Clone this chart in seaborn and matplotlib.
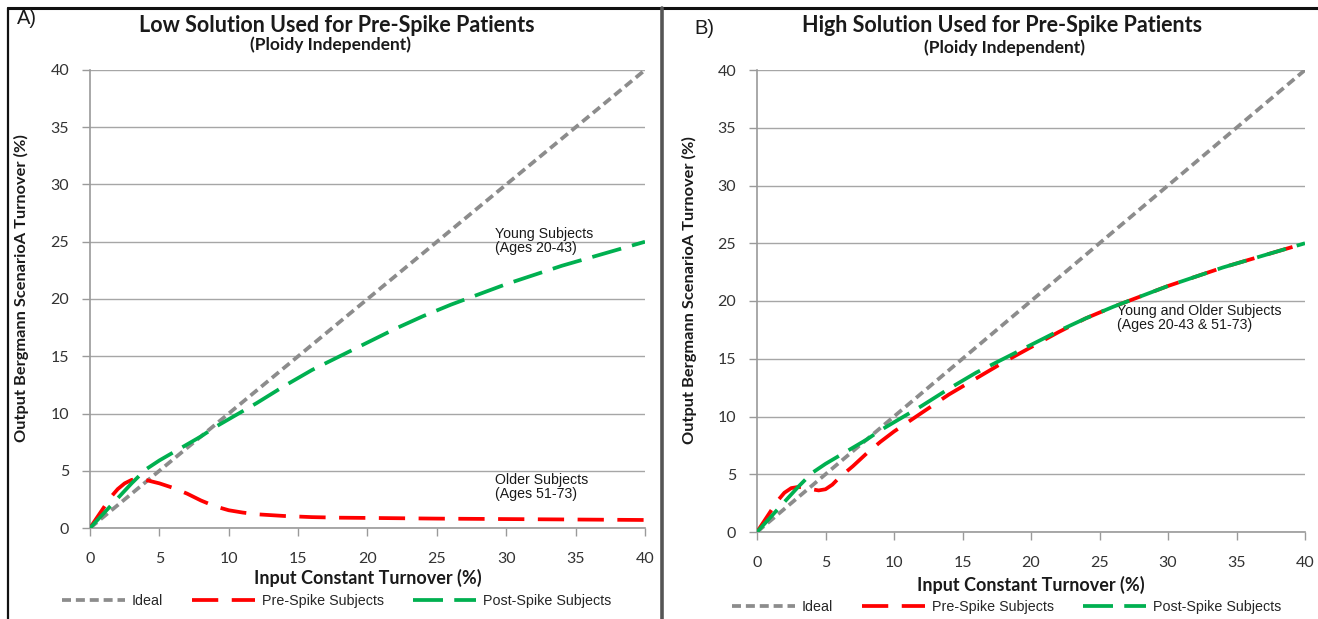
import numpy as np
import pandas as pd
import matplotlib
matplotlib.use("Agg")
import matplotlib.pyplot as plt
from matplotlib.lines import Line2D
import seaborn as sns

# ---------------- data ----------------
ideal_x = [0, 40]
ideal_y = [0, 40]

post_x = [0, 1, 2, 3, 4, 5, 6, 7, 8, 9, 10, 12, 14, 16, 18, 20, 22, 24, 26, 28, 30, 32, 34, 36, 38, 40]
post_y = [0, 1.3, 2.6, 3.9, 5.1, 5.9, 6.6, 7.3, 8.0, 8.8, 9.5, 10.9, 12.4, 13.8, 15.0, 16.2,
          17.4, 18.5, 19.5, 20.4, 21.3, 22.1, 22.9, 23.6, 24.3, 25.0]

pre_low_x = [0, 0.5, 1, 1.5, 2, 2.5, 3, 3.5, 4, 5, 6, 7, 8, 9, 10, 11, 12, 14, 16, 18, 20, 25, 30, 35, 40]
pre_low_y = [0, 0.9, 1.8, 2.7, 3.4, 3.9, 4.2, 4.3, 4.2, 3.9, 3.5, 3.0, 2.4, 1.9, 1.55, 1.35, 1.2,
             1.05, 0.95, 0.9, 0.88, 0.82, 0.78, 0.74, 0.7]

pre_high_x = [0, 0.5, 1, 1.5, 2, 2.5, 3, 3.5, 4, 4.5, 5, 5.5, 6, 7, 8, 9, 10, 11, 12, 14, 16, 18, 20,
              22, 24, 26, 28, 30, 32, 34, 36, 38, 40]
pre_high_y = [0, 0.9, 1.8, 2.7, 3.4, 3.8, 3.9, 3.85, 3.7, 3.6, 3.7, 4.1, 4.7, 5.7, 6.8, 7.8, 8.7,
              9.5, 10.3, 11.9, 13.3, 14.7, 16.0, 17.3, 18.5, 19.5, 20.4, 21.3, 22.1, 22.9, 23.6,
              24.3, 25.0]

x_ticks = [0, 5, 10, 15, 20, 25, 30, 35, 40]
y_ticks = [0, 5, 10, 15, 20, 25, 30, 35, 40]

series_labels = ["Ideal", "Pre-Spike Subjects", "Post-Spike Subjects"]
titles = ["Low Solution Used for Pre-Spike Patients", "High Solution Used for Pre-Spike Patients"]
subtitle = "(Ploidy Independent)"
panel_tags = ["A)", "B)"]
xlabel = "Input Constant Turnover (%)"
ylabel = "Output Bergmann ScenarioA Turnover (%)"

# ---------------- style ----------------
sns.set_theme(style="white")
plt.rcParams['font.family'] = ['Lato', 'DejaVu Sans']

W, H = 1318, 619
fig = plt.figure(figsize=(W / 100, H / 100), dpi=100)

GRAY = "#8c8c8c"
RED = "#ff0000"
GREEN = "#00b050"
LW = 2.7
ideal_ls = (0, (2.4, 1.3))
pre_ls = (0, (7.0, 3.6))
post_ls = (0, (8.0, 3.0))
TXT = "#1a1a1a"


def px_rect(l, r, t, b):
    return [l / W, 1 - b / H, (r - l) / W, (b - t) / H]


axes_specs = [px_rect(90, 645, 70, 528), px_rect(757, 1305, 70, 532)]
pre_data = [(pre_low_x, pre_low_y), (pre_high_x, pre_high_y)]

axs = []
for i, rect in enumerate(axes_specs):
    ax = fig.add_axes(rect)
    axs.append(ax)
    df_ideal = pd.DataFrame({"x": ideal_x, "y": ideal_y})
    df_pre = pd.DataFrame({"x": pre_data[i][0], "y": pre_data[i][1]})
    df_post = pd.DataFrame({"x": post_x, "y": post_y})
    sns.lineplot(data=df_ideal, x="x", y="y", ax=ax, color=GRAY, lw=LW, linestyle=ideal_ls,
                 label=series_labels[0], legend=False, zorder=3)
    sns.lineplot(data=df_pre, x="x", y="y", ax=ax, color=RED, lw=LW, linestyle=pre_ls,
                 label=series_labels[1], legend=False, zorder=4)
    sns.lineplot(data=df_post, x="x", y="y", ax=ax, color=GREEN, lw=LW, linestyle=post_ls,
                 label=series_labels[2], legend=False, zorder=5)

    ax.set_xlim(0, 40)
    ax.set_ylim(0, 40)
    ax.set_xticks(x_ticks)
    ax.set_yticks(y_ticks)
    ax.set_xticklabels([str(t) for t in x_ticks])
    ax.set_yticklabels([str(t) for t in y_ticks])
    ax.grid(axis="y", color="#a6a6a6", lw=1.0)
    ax.grid(axis="x", visible=False)
    ax.set_axisbelow(True)
    for s in ["top", "right"]:
        ax.spines[s].set_visible(False)
    for s in ["left", "bottom"]:
        ax.spines[s].set_color("#9a9a9a")
        ax.spines[s].set_linewidth(1.2)
    ax.tick_params(axis="both", direction="out", length=6, width=1.0, color="#9a9a9a",
                   labelsize=11.5, labelcolor="#333333")
    ax.tick_params(axis="x", pad=11, bottom=True)
    ax.tick_params(axis="y", pad=9, left=True)
    ax.set_xlabel(xlabel, fontsize=13, fontweight="bold", color=TXT)
    ax.set_ylabel(ylabel, fontsize=11.8, fontweight="bold", color=TXT)
    ax.set_facecolor("white")

axs[0].xaxis.set_label_coords(0.5, (528 - 569) / 458)
axs[1].xaxis.set_label_coords(0.5, (532 - 576) / 462)
axs[0].yaxis.set_label_coords((29 - 90) / 555, (528 - 288) / 458)
axs[1].yaxis.set_label_coords((697 - 757) / 548, (532 - 290) / 462)

# titles
for cx, ty, t in [(337, 25, titles[0]), (1002, 26, titles[1])]:
    fig.text(cx / W, 1 - ty / H, t, ha="center", va="center", fontsize=15.5,
             fontweight="bold", color=TXT)
for cx, sy in [(330, 45), (1004, 48)]:
    fig.text(cx / W, 1 - sy / H, subtitle, ha="center", va="center", fontsize=12.5,
             fontweight="bold", color=TXT)
fig.text(17 / W, 1 - 19 / H, panel_tags[0], ha="left", va="center", fontsize=14.5,
         color=TXT, family=['Liberation Sans'])
fig.text(694 / W, 1 - 29 / H, panel_tags[1], ha="left", va="center", fontsize=14.5,
         color=TXT, family=['Liberation Sans'])

# annotations
ann_kw = dict(fontsize=10.2, color=TXT, family=['Liberation Sans'], ha="left", va="top",
              linespacing=1.0)
axs[0].text(29.2, 26.3, "Young Subjects\n(Ages 20-43)", **ann_kw)
axs[0].text(29.2, 4.8, "Older Subjects\n(Ages 51-73)", **ann_kw)
axs[1].text(26.3, 19.7, "Young and Older Subjects\n(Ages 20-43 & 51-73)", **ann_kw)

# legends
handles = [
    Line2D([], [], color=GRAY, lw=LW, linestyle=ideal_ls),
    Line2D([], [], color=RED, lw=LW, linestyle=pre_ls),
    Line2D([], [], color=GREEN, lw=LW, linestyle=post_ls),
]
for lx, ly in [(62, 601), (732, 607)]:
    fig.legend(handles, series_labels, loc="center left",
               bbox_to_anchor=(lx / W, 1 - ly / H), ncol=3, frameon=False,
               handlelength=4.4, handletextpad=0.5, columnspacing=2.0,
               prop={'family': ['Liberation Sans'], 'size': 10.3}, borderaxespad=0,
               borderpad=0)

# panel borders
fig.add_artist(Line2D([8 / W, 8 / W], [0, 1 - 8 / H], transform=fig.transFigure,
                      color="#111111", lw=1.6))
fig.add_artist(Line2D([8 / W, 1.0], [1 - 8 / H, 1 - 8 / H], transform=fig.transFigure,
                      color="#111111", lw=2.2))
fig.add_artist(Line2D([662 / W, 662 / W], [0, 1 - 8 / H], transform=fig.transFigure,
                      color="#555555", lw=2.6))

fig.savefig("out.png", dpi=100, facecolor="white")
